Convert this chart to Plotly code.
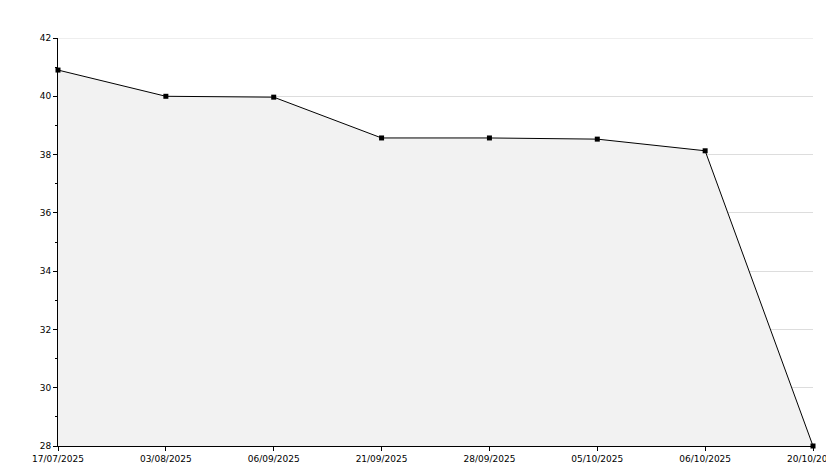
import plotly.graph_objects as go

dates = ["17/07/2025", "03/08/2025", "06/09/2025", "21/09/2025",
         "28/09/2025", "05/10/2025", "06/10/2025", "20/10/2025"]
values = [40.9, 40.0, 39.97, 38.57, 38.57, 38.53, 38.13, 28.0]
pos = list(range(len(dates)))

fig = go.Figure(go.Scatter(
    x=pos, y=values, mode="lines+markers",
    line=dict(color="black", width=1),
    marker=dict(symbol="square", size=5, color="black"),
    fill="tozeroy", fillcolor="#f2f2f2", cliponaxis=False,
))

fig.update_layout(
    width=834, height=468, showlegend=False,
    plot_bgcolor="white", paper_bgcolor="white",
    margin=dict(l=50, r=29, t=30, b=30, autoexpand=False),
    font=dict(family="DejaVu Sans", size=9, color="black"),
)
fig.update_xaxes(range=[0, 7], tickvals=pos, ticktext=dates, showgrid=False,
                 zeroline=False, showline=True, linecolor="black", automargin=False,
                 ticks="outside", ticklen=4, tickcolor="black")
fig.update_yaxes(range=[28, 42], dtick=2, showgrid=True, gridcolor="#dddddd",
                 zeroline=False, showline=True, linecolor="black", automargin=False,
                 ticks="outside", ticklen=4, tickcolor="black",
                 minor=dict(dtick=1, ticks="outside", ticklen=2, tickcolor="black", showgrid=False))
fig.add_shape(type="line", xref="paper", yref="y", x0=0, x1=1, y0=42, y1=42,
              line=dict(color="#dddddd", width=1))

fig.write_html("out.html")
